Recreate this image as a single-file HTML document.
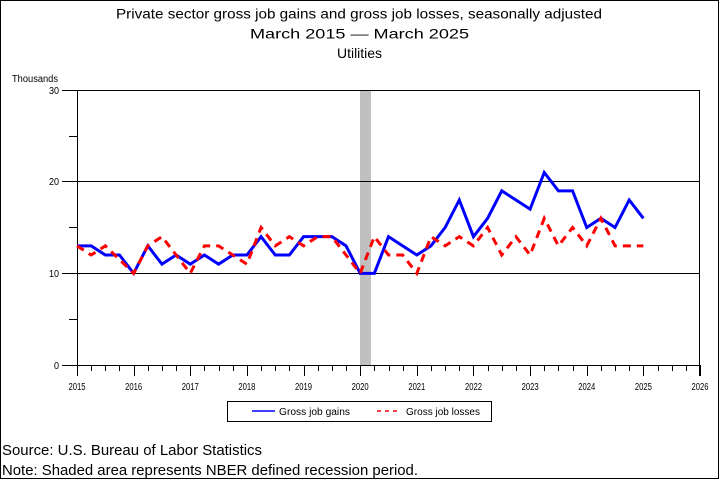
<!DOCTYPE html>
<html>
<head>
<meta charset="utf-8">
<style>
html,body{margin:0;padding:0;background:#fff;}
svg{display:block;}
text{font-family:"Liberation Sans",sans-serif;fill:#000;}
</style>
</head>
<body>
<svg width="720" height="480" viewBox="0 0 720 480" xmlns="http://www.w3.org/2000/svg">
<rect x="0" y="0" width="720" height="480" fill="#fff"/>
<rect x="0.5" y="0.5" width="718" height="478" fill="none" stroke="#000" stroke-width="1"/>

<!-- Titles -->
<text x="116" y="18.5" font-size="14" textLength="486" lengthAdjust="spacingAndGlyphs">Private sector gross job gains and gross job losses, seasonally adjusted</text>
<text x="250" y="38.5" font-size="14" textLength="219" lengthAdjust="spacingAndGlyphs">March 2015 — March 2025</text>
<text x="337" y="58" font-size="14" textLength="45" lengthAdjust="spacingAndGlyphs">Utilities</text>

<text x="12" y="82" font-size="10" textLength="46" lengthAdjust="spacingAndGlyphs">Thousands</text>

<!-- recession shading -->
<rect x="360" y="90" width="11" height="275" fill="#c0c0c0"/>

<g shape-rendering="crispEdges" stroke="#000" stroke-width="1">
<!-- grid -->
<line x1="77" y1="181.5" x2="700" y2="181.5"/>
<line x1="77" y1="273.5" x2="700" y2="273.5"/>
<!-- frame -->
<line x1="77.5" y1="90" x2="77.5" y2="365"/>
<line x1="699.5" y1="90" x2="699.5" y2="376"/>
<line x1="77" y1="90.5" x2="700" y2="90.5"/>
<line x1="62" y1="365.5" x2="700" y2="365.5"/>
<!-- y ticks -->
<line x1="62" y1="90.5" x2="77" y2="90.5"/>
<line x1="62" y1="181.5" x2="77" y2="181.5"/>
<line x1="62" y1="273.5" x2="77" y2="273.5"/>
<line x1="69" y1="136.5" x2="77" y2="136.5"/>
<line x1="69" y1="227.5" x2="77" y2="227.5"/>
<line x1="69" y1="319.5" x2="77" y2="319.5"/>
</g>

<g id="xticks" shape-rendering="crispEdges" stroke="#000" stroke-width="1"></g>

<!-- y labels -->
<g font-size="10" text-anchor="end">
<text x="59" y="94" textLength="10" lengthAdjust="spacingAndGlyphs">30</text>
<text x="59" y="185" textLength="10" lengthAdjust="spacingAndGlyphs">20</text>
<text x="59" y="277" textLength="10" lengthAdjust="spacingAndGlyphs">10</text>
<text x="59" y="369" textLength="5" lengthAdjust="spacingAndGlyphs">0</text>
</g>

<g id="xlabels" font-size="10" text-anchor="middle"></g>

<!-- series -->
<polyline fill="none" stroke="#0000ff" stroke-width="3" stroke-linejoin="miter" points="77,245.83 91.16,245.83 105.32,255 119.48,255 133.64,273.33 147.8,245.83 161.95,264.17 176.11,255 190.27,264.17 204.43,255 218.59,264.17 232.75,255 246.91,255 261.07,236.67 275.23,255 289.39,255 303.55,236.67 317.7,236.67 331.86,236.67 346.02,245.83 360.18,273.33 374.34,273.33 388.5,236.67 402.66,245.83 416.82,255 430.98,245.83 445.14,227.5 459.3,200 473.45,236.67 487.61,218.33 501.77,190.83 515.93,200 530.09,209.17 544.25,172.5 558.41,190.83 572.57,190.83 586.73,227.5 600.89,218.33 615.05,227.5 629.2,200 643.36,218.33"/>
<polyline fill="none" stroke="#ff0000" stroke-width="3" stroke-dasharray="8 6" points="77,245.83 91.16,255 105.32,245.83 119.48,259.58 133.64,273.33 147.8,245.83 161.95,236.67 176.11,255 190.27,273.33 204.43,245.83 218.59,245.83 232.75,255 246.91,264.17 261.07,227.5 275.23,245.83 289.39,236.67 303.55,245.83 317.7,236.67 331.86,236.67 346.02,255 360.18,273.33 374.34,236.67 388.5,255 402.66,255 416.82,273.33 430.98,236.67 445.14,245.83 459.3,236.67 473.45,245.83 487.61,227.5 501.77,255 515.93,236.67 530.09,255 544.25,218.33 558.41,245.83 572.57,227.5 586.73,245.83 600.89,218.33 615.05,245.83 629.2,245.83 643.36,245.83"/>

<!-- legend -->
<rect x="227.5" y="401.5" width="264" height="20" fill="none" stroke="#000" stroke-width="1" shape-rendering="crispEdges"/>
<line x1="252" y1="411" x2="275" y2="411" stroke="#0000ff" stroke-width="1.5"/>
<text x="279" y="415" font-size="10" textLength="71" lengthAdjust="spacingAndGlyphs">Gross job gains</text>
<line x1="377" y1="411" x2="399" y2="411" stroke="#ff0000" stroke-width="1.5" stroke-dasharray="4 4"/>
<text x="406" y="415" font-size="10" textLength="74" lengthAdjust="spacingAndGlyphs">Gross job losses</text>

<!-- footer -->
<text x="2" y="455" font-size="15" textLength="260" lengthAdjust="spacingAndGlyphs">Source: U.S. Bureau of Labor Statistics</text>
<text x="2" y="475" font-size="15" textLength="416" lengthAdjust="spacingAndGlyphs">Note: Shaded area represents NBER defined recession period.</text>

<script>
(function(){
  var ns="http://www.w3.org/2000/svg";
  var g=document.getElementById("xticks");
  var gl=document.getElementById("xlabels");
  var step=623/44;
  for(var i=0;i<=44;i++){
    var x=Math.round(77+i*step)+0.5;
    var l=document.createElementNS(ns,"line");
    l.setAttribute("x1",x);l.setAttribute("x2",x);
    l.setAttribute("y1",365);l.setAttribute("y2",(i%4==0)?376:371);
    g.appendChild(l);
    if(i%4==0){
      var t=document.createElementNS(ns,"text");
      t.setAttribute("x",77+i*step);
      t.setAttribute("y",390);
      t.setAttribute("textLength","17");
      t.setAttribute("lengthAdjust","spacingAndGlyphs");
      t.textContent=String(2015+i/4);
      gl.appendChild(t);
    }
  }
})();
</script>
</svg>
</body>
</html>
